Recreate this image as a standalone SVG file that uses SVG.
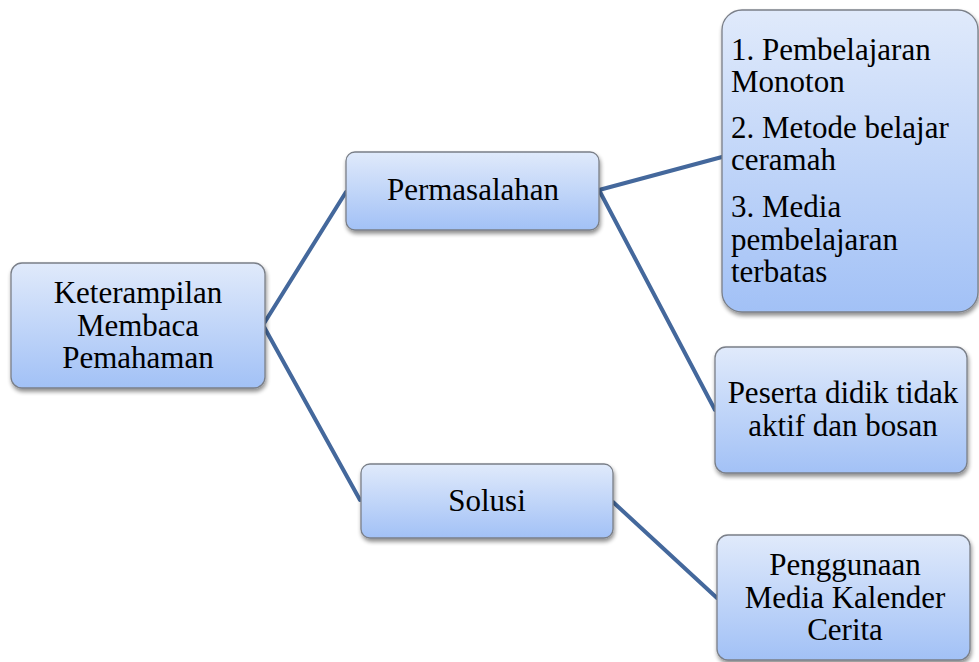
<svg xmlns="http://www.w3.org/2000/svg" width="979" height="662" viewBox="0 0 979 662">
<defs>
<linearGradient id="g" x1="0" y1="0" x2="0" y2="1">
<stop offset="0" stop-color="#e0eafb"/>
<stop offset="1" stop-color="#a2c1f6"/>
</linearGradient>
<filter id="sh" x="-10%" y="-10%" width="125%" height="130%">
<feGaussianBlur in="SourceAlpha" stdDeviation="2"/>
<feOffset dx="1" dy="3"/>
<feComponentTransfer><feFuncA type="linear" slope="0.45"/></feComponentTransfer>
<feMerge><feMergeNode/><feMergeNode in="SourceGraphic"/></feMerge>
</filter>
</defs>
<style>
.box{fill:url(#g);stroke:#7a7f88;stroke-width:1.3;filter:url(#sh)}
text{font-family:'Liberation Serif','Times New Roman',serif;font-size:31px;fill:#000}
.c{text-anchor:middle}
.ln{stroke:#44689c;stroke-width:4;fill:none;stroke-linecap:round}
</style>
<g id="connectors">
<line class="ln" x1="263" y1="325" x2="346" y2="192"/>
<line class="ln" x1="263" y1="325" x2="360" y2="500"/>
<line class="ln" x1="599" y1="190" x2="722" y2="157"/>
<line class="ln" x1="599" y1="190" x2="715" y2="410"/>
<line class="ln" x1="613" y1="502" x2="717" y2="598"/>
</g>
<g id="root">
<rect class="box" x="11" y="263" width="254" height="125" rx="11"/>
<text class="c" x="138" y="303">Keterampilan</text>
<text class="c" x="138" y="336">Membaca</text>
<text class="c" x="138" y="368">Pemahaman</text>
</g>
<g id="permasalahan">
<rect class="box" x="346" y="152" width="253" height="78" rx="9"/>
<text class="c" x="473" y="200">Permasalahan</text>
</g>
<g id="solusi">
<rect class="box" x="361" y="464" width="252" height="74" rx="9"/>
<text class="c" x="487" y="511">Solusi</text>
</g>
<g id="masalah-list">
<rect class="box" x="722" y="10" width="256" height="302" rx="20"/>
<text x="731" y="60">1. Pembelajaran</text>
<text x="731" y="92">Monoton</text>
<text x="731" y="138">2. Metode belajar</text>
<text x="731" y="170">ceramah</text>
<text x="731" y="217">3. Media</text>
<text x="731" y="250">pembelajaran</text>
<text x="731" y="282">terbatas</text>
</g>
<g id="peserta">
<rect class="box" x="715" y="347" width="252" height="126" rx="11"/>
<text class="c" x="843" y="403">Peserta didik tidak</text>
<text class="c" x="843" y="436">aktif dan bosan</text>
</g>
<g id="penggunaan">
<rect class="box" x="717" y="535" width="253" height="125" rx="11"/>
<text class="c" x="845" y="575">Penggunaan</text>
<text class="c" x="845" y="608">Media Kalender</text>
<text class="c" x="845" y="640">Cerita</text>
</g>
</svg>
